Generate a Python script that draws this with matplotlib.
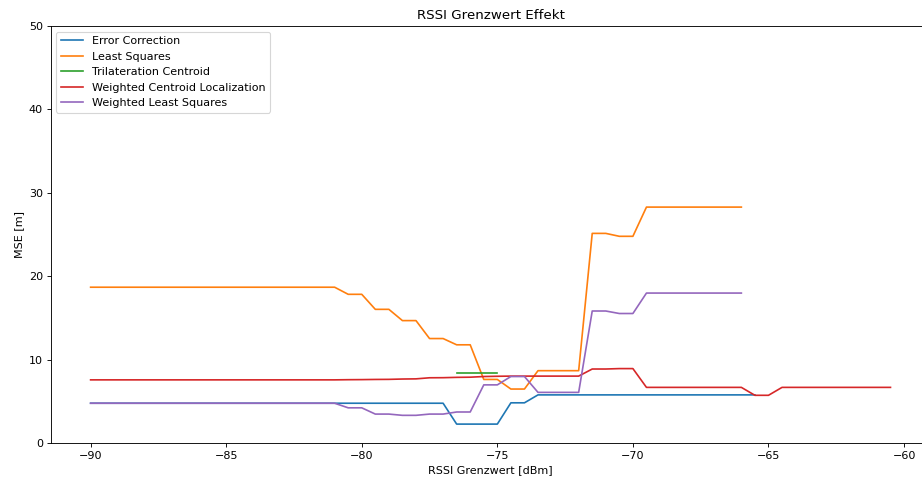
# Plot the MSE of each localization method against the RSSI threshold
import numpy as np
import matplotlib
matplotlib.use('Agg')
import matplotlib.pyplot as plt

# RSSI thresholds in 0.5 dBm steps
rssi = np.arange(-90.0, -60.0, 0.5)

# MSE values per method (None where the method has no result)
error_correction = [4.8] * 27 + [2.3, 2.3, 2.3, 2.3, 4.85, 4.85] + [5.8] * 17
least_squares = ([18.7] * 19 + [17.85, 17.85, 16.05, 16.05, 14.7, 14.7, 12.55, 12.55,
                                11.8, 11.8, 7.65, 7.65, 6.5, 6.5, 8.7, 8.7, 8.7, 8.7,
                                25.15, 25.15, 24.8, 24.8] + [28.3] * 8)
trilateration_centroid = [None] * 27 + [8.45, 8.45, 8.45, 8.45]
weighted_centroid = ([7.6] * 19 + [7.62, 7.63, 7.65, 7.66, 7.7, 7.72, 7.85, 7.86,
                                   7.9, 7.92, 8.0, 8.03] + [8.05] * 6
                     + [8.9, 8.9, 8.95, 8.95] + [6.7] * 8 + [5.75, 5.75] + [6.7] * 9)
weighted_least_squares = ([4.8] * 19 + [4.25, 4.25, 3.5, 3.5, 3.35, 3.35, 3.5, 3.5,
                                        3.75, 3.75, 7.0, 7.0, 8.0, 8.0] + [6.1] * 4
                          + [15.85, 15.85, 15.55, 15.55] + [18.0] * 8)

series = [
    ('Error Correction', error_correction),
    ('Least Squares', least_squares),
    ('Trilateration Centroid', trilateration_centroid),
    ('Weighted Centroid Localization', weighted_centroid),
    ('Weighted Least Squares', weighted_least_squares),
]

fig = plt.figure(figsize=(922 / 80, 482 / 80), dpi=80)
ax = fig.add_axes([0.0549, 0.0803, 0.9543, 0.8658])

for name, values in series:
    y = np.array([np.nan if v is None else v for v in values], dtype=float)
    ax.plot(rssi[:len(y)], y, label=name)

ax.set_ylim(0, 50)
ax.set_xlim(-91.475, -59.025)
ax.set_title('RSSI Grenzwert Effekt')
ax.set_xlabel('RSSI Grenzwert [dBm]')
ax.set_ylabel('MSE [m]')
ax.legend(loc='upper left')

fig.savefig('out.png', dpi=80)
